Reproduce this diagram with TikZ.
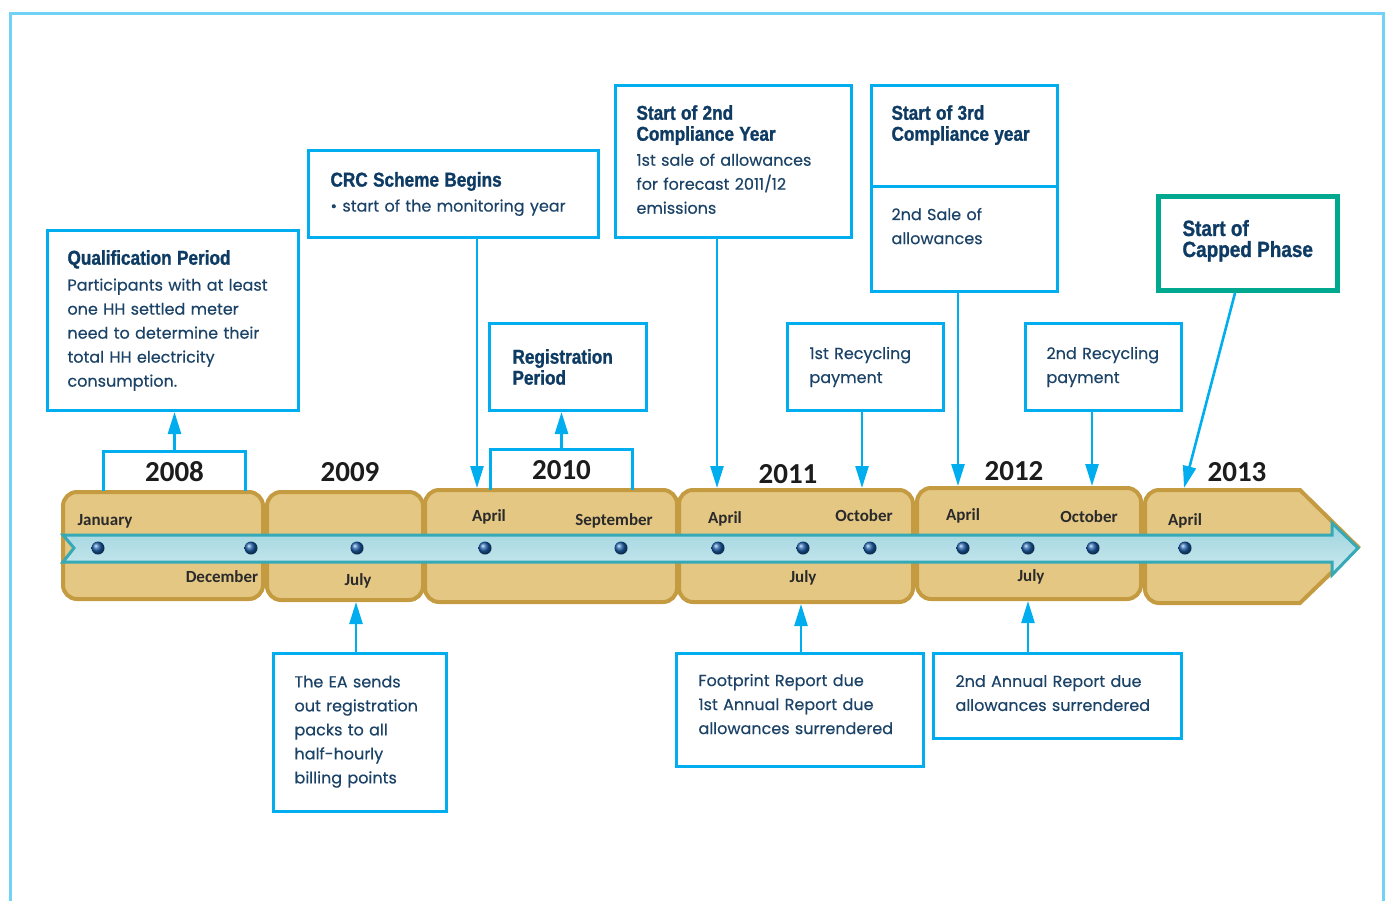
\documentclass[tikz,border=0pt]{standalone}
\usepackage{fontspec}
\setmainfont{Poppins}[FakeBold=0.3]
\newfontfamily\headfont{Liberation Sans}[FakeStretch=0.86, FakeBold=1.2]
\newfontfamily\calfont{Carlito}
\usepackage{xcolor}
\usetikzlibrary{arrows.meta, positioning}

\definecolor{linkblue}{HTML}{00AEEF}
\definecolor{frameblue}{HTML}{72D2F6}
\definecolor{capgreen}{HTML}{00A88F}
\definecolor{inknavy}{HTML}{0E3B63}
\definecolor{textnavy}{HTML}{1B4267}
\definecolor{tanfill}{HTML}{E4C783}
\definecolor{tanedge}{HTML}{C49B40}
\definecolor{bandtop}{HTML}{9ED4DE}
\definecolor{bandbot}{HTML}{CCE9EF}
\definecolor{bandedge}{HTML}{36A9B7}
\definecolor{dotblue}{HTML}{1B5EA8}
\definecolor{monthink}{HTML}{2A2A2A}
\definecolor{yearink}{HTML}{1C1C1C}

\newcommand{\boxtitle}[1]{{\headfont\bfseries\color{inknavy}\fontsize{20}{21}\selectfont #1}}

\begin{document}
\begin{tikzpicture}[x=1pt, y=-1pt,
    infobox/.style={draw=linkblue, line width=3pt, fill=white, text=textnavy, align=left,
        anchor=north west, inner ysep=0pt, font=\fontsize{16}{24}\selectfont},
    link/.style={draw=linkblue, line width=2.6pt, -{Triangle[width=13pt, length=22pt]}},
    seg/.style={draw=tanedge, fill=tanfill, line width=4pt, rounded corners=14pt},
    monthlbl/.style={font=\calfont\bfseries\fontsize{17}{17}\selectfont, text=monthink, inner sep=0pt},
    yearlbl/.style={font=\calfont\bfseries\fontsize{29}{29}\selectfont, text=yearink, inner sep=0pt},
    tldot/.style={circle, minimum size=13pt, inner sep=0pt, shading=ball, ball color=dotblue}]
    \useasboundingbox (0,0) rectangle (1389,900);

    % Frame
    \draw[frameblue, line width=3pt] (10,905) -- (10,13) -- (1383,13) -- (1383,905);

    % Year segments
    \node[seg, minimum width=200pt, minimum height=107pt] (s2008) at (163,545.5) {};
    \node[seg, minimum width=156pt, minimum height=108pt] (s2009) at (345,546) {};
    \node[seg, minimum width=252pt, minimum height=112pt] (s2010) at (551,546) {};
    \node[seg, minimum width=234pt, minimum height=112pt] (s2011) at (796,546) {};
    \node[seg, minimum width=224pt, minimum height=111pt] (s2012) at (1029,543.5) {};
    \draw[draw=tanedge, fill=tanfill, line width=4pt]
        (1300,603) [rounded corners=14pt] -- (1145,603) -- (1145,490) [sharp corners] -- (1300,490)
        -- (1358,547) -- cycle;

    % Time band
    \draw[draw=bandedge, line width=3pt, top color=bandtop, bottom color=bandbot]
        (63,535) -- (1332,535) -- (1332,523) -- (1358,548) -- (1332,575) -- (1332,562)
        -- (63,562) -- (74,548) -- cycle;

    % Dots
    \node[tldot] (jan08) at (98,548) {};
    \node[tldot] (dec08) at (251,548) {};
    \node[tldot] (jul09) at (357,548) {};
    \node[tldot] (apr10) at (485,548) {};
    \node[tldot] (sep10) at (621,548) {};
    \node[tldot] (apr11) at (718,548) {};
    \node[tldot] (jul11) at (803,548) {};
    \node[tldot] (oct11) at (870,548) {};
    \node[tldot] (apr12) at (963,548) {};
    \node[tldot] (jul12) at (1028,548) {};
    \node[tldot] (oct12) at (1093,548) {};
    \node[tldot] (apr13) at (1185,548) {};

    % Months
    \node[monthlbl] (mjan08) at (105,521) {January};
    \node[monthlbl] (mdec08) at (222,577) {December};
    \node[monthlbl] (mjul09) at (358,581) {July};
    \node[monthlbl] (mapr10) at (489,517) {April};
    \node[monthlbl] (msep10) at (614,521) {September};
    \node[monthlbl] (mapr11) at (725,519) {April};
    \node[monthlbl] (moct11) at (864,516) {October};
    \node[monthlbl] (mjul11) at (803,578) {July};
    \node[monthlbl] (mapr12) at (963,516) {April};
    \node[monthlbl] (moct12) at (1089,517) {October};
    \node[monthlbl] (mjul12) at (1031,577) {July};
    \node[monthlbl] (mapr13) at (1185,521) {April};

    % Years
    \node[yearlbl, minimum width=141pt, minimum height=39pt] (y2008) at (174.5,471.5) {2008};
    \node[yearlbl] (y2009) at (350,472) {2009};
    \node[yearlbl, minimum width=141pt, minimum height=40pt] (y2010) at (561.5,470) {2010};
    \node[yearlbl] (y2011) at (788,474) {2011};
    \node[yearlbl] (y2012) at (1014,471) {2012};
    \node[yearlbl] (y2013) at (1237,472) {2013};
    \draw[linkblue, line width=3pt] (y2008.south west) |- (y2008.north) -| (y2008.south east);
    \draw[linkblue, line width=3pt] (y2010.south west) |- (y2010.north) -| (y2010.south east);

    % Boxes above
    \node[infobox, minimum width=251pt, minimum height=180pt, text width=211pt, inner xsep=20pt] (qual) at (46,229)
        {\boxtitle{Qualification Period}\\[2pt]
         Participants with at least\\
         one HH settled meter\\
         need to determine their\\
         total HH electricity\\
         consumption.};
    \node[infobox, minimum width=290pt, minimum height=87pt, text width=246pt, inner xsep=22pt] (crc) at (307,149)
        {\boxtitle{CRC Scheme Begins}\\[1pt]
         \textbullet{} start of the monitoring year};
    \node[infobox, minimum width=157pt, minimum height=87pt, text width=111pt, inner xsep=23pt] (reg) at (488,322)
        {\boxtitle{Registration\\[-3pt]Period}};
    \node[infobox, minimum width=236pt, minimum height=152pt, text width=194pt, inner xsep=21pt] (second) at (614,84)
        {\boxtitle{Start of 2nd\\[-3pt]Compliance Year}\\[1pt]
         1st sale of allowances\\
         for forecast 2011/12\\
         emissions\rule[-4pt]{0pt}{0pt}};
    \node[infobox, minimum width=186pt, minimum height=101pt, text width=146pt, inner xsep=20pt] (third) at (870,84)
        {\boxtitle{Start of 3rd\\[-3pt]Compliance year}\rule[-26pt]{0pt}{0pt}};
    \node[infobox, minimum width=186pt, minimum height=105pt, text width=146pt, inner xsep=20pt] (sale) at (870,185)
        {2nd Sale of\\ allowances\rule[-26pt]{0pt}{0pt}};
    \node[infobox, minimum width=156pt, minimum height=87pt, text width=112pt, inner xsep=22pt] (rec1) at (786,322)
        {1st Recycling\\ payment};
    \node[infobox, minimum width=156pt, minimum height=87pt, text width=114pt, inner xsep=21pt] (rec2) at (1024,322)
        {2nd Recycling\\ payment};
    \node[infobox, draw=capgreen, line width=5pt, minimum width=179pt, minimum height=94pt, text width=131pt,
        inner xsep=24pt] (capped) at (1156,194)
        {{\headfont\bfseries\color{inknavy}\fontsize{22}{21}\selectfont Start of\\[-3pt]Capped Phase}\rule[-10pt]{0pt}{0pt}};

    % Boxes below
    \node[infobox, minimum width=173pt, minimum height=158pt, text width=131pt, inner xsep=21pt] (ea) at (272,652)
        {The EA sends\\ out registration\\ packs to all\\ half-hourly\\ billing points\rule[-6pt]{0pt}{0pt}};
    \node[infobox, minimum width=247pt, minimum height=113pt, text width=203pt, inner xsep=22pt] (foot) at (675,652)
        {Footprint Report due\\ 1st Annual Report due\\ allowances surrendered\rule[-12pt]{0pt}{0pt}};
    \node[infobox, minimum width=248pt, minimum height=85pt, text width=204pt, inner xsep=22pt] (annual) at (932,652)
        {2nd Annual Report due\\ allowances surrendered\rule[-6pt]{0pt}{0pt}};

    % Arrow ends on the segments
    \coordinate (a1) at (477,488);
    \coordinate (a2) at (717,488);
    \coordinate (a3) at (862,488);
    \coordinate (a4) at (958,486);
    \coordinate (a5) at (1092,486);
    \coordinate (a6) at (1184,488);
    \coordinate (b1) at (356,602);
    \coordinate (b2) at (801,604);
    \coordinate (b3) at (1028,601);

    % Arrows
    \draw[link] (y2008.north) -- (y2008.north |- qual.south);
    \draw[link] (y2010.north) -- (y2010.north |- reg.south);
    \draw[link] (crc.south -| a1) -- (a1);
    \draw[link] (second.south -| a2) -- (a2);
    \draw[link] (rec1.south -| a3) -- (a3);
    \draw[link] (sale.south -| a4) -- (a4);
    \draw[link] (rec2.south -| a5) -- (a5);
    \draw[link] ([xshift=-13pt]capped.south) -- (a6);
    \draw[link] (ea.north -| b1) -- (b1);
    \draw[link] (foot.north -| b2) -- (b2);
    \draw[link] (annual.north -| b3) -- (b3);
\end{tikzpicture}
\end{document}
